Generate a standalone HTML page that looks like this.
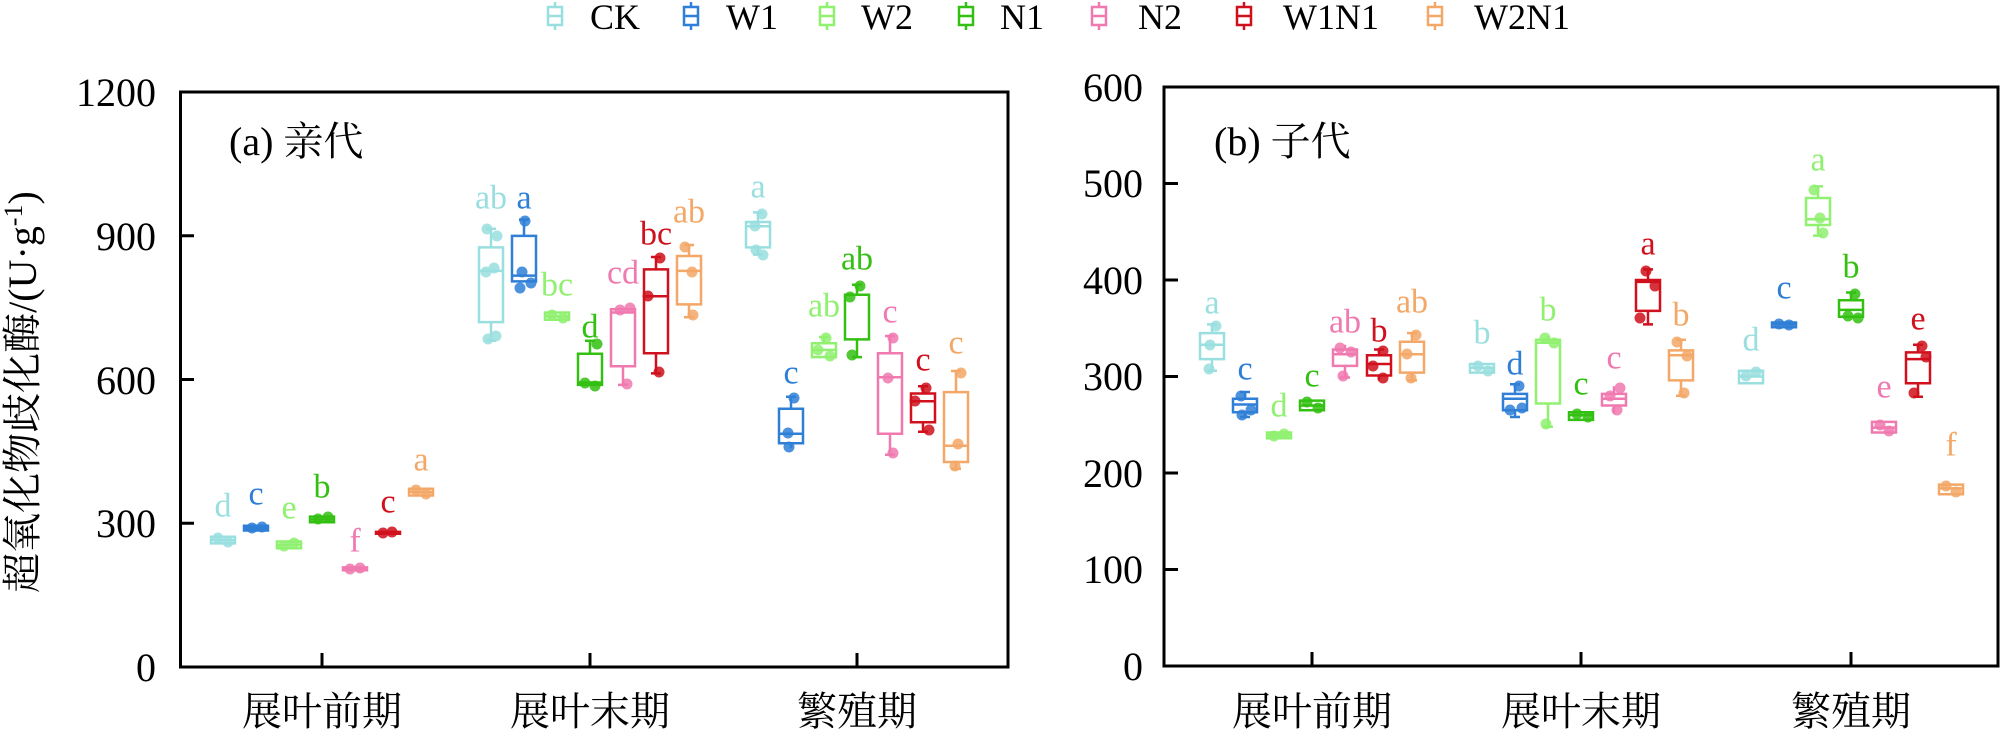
<!DOCTYPE html>
<html><head><meta charset="utf-8"><style>
html,body{margin:0;padding:0;background:#fff;}
svg{display:block;font-family:"Liberation Serif","Noto Serif CJK SC","Noto Sans CJK SC",serif;}
.t{font-size:40px;fill:#000;}
.l{font-size:34px;text-anchor:middle;dominant-baseline:central;}
.b{fill:none;stroke-width:2.5;}
</style></head><body>
<svg width="2000" height="731" viewBox="0 0 2000 731" xmlns="http://www.w3.org/2000/svg">
<!-- legend -->
<g class="b" stroke-width="2.2">
<path stroke="#9adfe0" d="M548 7h14v18h-14zM548 16h14M555 2v5M555 25v5"/>
<path stroke="#2f7fd6" d="M684 7h14v18h-14zM684 16h14M691 2v5M691 25v5"/>
<path stroke="#90f070" d="M820 7h14v18h-14zM820 16h14M827 2v5M827 25v5"/>
<path stroke="#33c012" d="M959 7h14v18h-14zM959 16h14M966 2v5M966 25v5"/>
<path stroke="#f07ab0" d="M1092 7h14v18h-14zM1092 16h14M1099 2v5M1099 25v5"/>
<path stroke="#d0101c" d="M1237 7h14v18h-14zM1237 16h14M1244 2v5M1244 25v5"/>
<path stroke="#f4a868" d="M1428 7h14v18h-14zM1428 16h14M1435 2v5M1435 25v5"/>
</g>
<g font-size="36" fill="#000">
<text x="590" y="29">CK</text><text x="726" y="29">W1</text><text x="861" y="29">W2</text><text x="1000" y="29">N1</text><text x="1138" y="29">N2</text><text x="1283" y="29">W1N1</text><text x="1474" y="29">W2N1</text>
</g>

<!-- left axes -->
<g stroke="#000" stroke-width="3" fill="none">
<rect x="180.5" y="92" width="827.5" height="575"/>
<path d="M180 235.8h14M180 379.5h14M180 523.3h14M322 667v-14M590 667v-14M857 667v-14"/>
<rect x="1164" y="87" width="834" height="579"/>
<path d="M1164 569.5h14M1164 473h14M1164 376.5h14M1164 280h14M1164 183.5h14M1312 666v-14M1581 666v-14M1851 666v-14"/>
</g>
<g class="t" text-anchor="end">
<text x="156" y="106">1200</text><text x="156" y="250">900</text><text x="156" y="394">600</text><text x="156" y="537">300</text><text x="156" y="681">0</text>
<text x="1143" y="101">600</text><text x="1143" y="197">500</text><text x="1143" y="294">400</text><text x="1143" y="390">300</text><text x="1143" y="487">200</text><text x="1143" y="583">100</text><text x="1143" y="680">0</text>
</g>
<g class="t" text-anchor="middle">
<text x="322" y="725">展叶前期</text><text x="590" y="725">展叶末期</text><text x="857" y="725">繁殖期</text>
<text x="1312" y="725">展叶前期</text><text x="1581" y="725">展叶末期</text><text x="1851" y="725">繁殖期</text>
</g>
<text class="t" x="229" y="155" font-size="38">(a) 亲代</text>
<text class="t" x="1214" y="155" font-size="38">(b) 子代</text>
<text class="t" transform="translate(36,392) rotate(-90)" text-anchor="middle">超氧化物歧化酶/(U·g<tspan dy="-14" font-size="26">-1</tspan><tspan dy="14">)</tspan></text>

<!-- LEFT boxes -->
<!-- CK -->
<g stroke="#9adfe0" fill="#9adfe0">
<path class="b" d="M211 536.7h24V543.4h-24ZM211 540h24"/>
<path class="b" d="M479 247.4h24V322.1h-24ZM479 270.9h24M491 228.7V247.4M491 322.1V340.8M486 228.7h10M486 340.8h10"/>
<path class="b" d="M746 222h24V247.4h-24ZM746 226.3h24M758 212.4V222M758 247.4V254.6M753 212.4h10M753 254.6h10"/>
<g opacity=".85"><circle cx="218" cy="538" r="5"/><circle cx="228" cy="542" r="5"/><circle cx="487" cy="229" r="5"/><circle cx="497" cy="236" r="5"/><circle cx="486" cy="272" r="5"/><circle cx="494" cy="268" r="5"/><circle cx="488" cy="339" r="5"/><circle cx="496" cy="336" r="5"/><circle cx="762" cy="214" r="5"/><circle cx="755" cy="226" r="5"/><circle cx="756" cy="250" r="5"/><circle cx="763" cy="255" r="5"/></g>
<text class="l" x="223" y="506" stroke="none">d</text><text class="l" x="491" y="198" stroke="none">ab</text><text class="l" x="758" y="187" stroke="none">a</text>
</g>
<!-- W1 -->
<g stroke="#2f7fd6" fill="#2f7fd6">
<path class="b" d="M244 525.7h24V530.5h-24ZM244 528h24"/>
<path class="b" d="M512 235.9h24V281.4h-24ZM512 275.6h24M524 219.6V235.9M519 219.6h10"/>
<path class="b" d="M779 408.8h24V443.3h-24ZM779 433.7h24M791 396.8V408.8M791 443.3V448.1M786 396.8h10"/>
<g opacity=".85"><circle cx="252" cy="528" r="5"/><circle cx="262" cy="527" r="5"/><circle cx="525" cy="221" r="5"/><circle cx="522" cy="272" r="5"/><circle cx="531" cy="283" r="5"/><circle cx="520" cy="288" r="5"/><circle cx="794" cy="398" r="5"/><circle cx="788" cy="433" r="5"/><circle cx="789" cy="447" r="5"/></g>
<text class="l" x="256" y="494" stroke="none">c</text><text class="l" x="524" y="198" stroke="none">a</text><text class="l" x="791" y="373" stroke="none">c</text>
</g>
<!-- W2 -->
<g stroke="#90f070" fill="#90f070">
<path class="b" d="M277 541.5h24V548.2h-24ZM277 545h24"/>
<path class="b" d="M545 312.5h24V319.7h-24ZM545 316.4h24"/>
<path class="b" d="M812 343.2h24V357.1h-24ZM812 349.9h24M824 337V343.2M819 337h10"/>
<g opacity=".85"><circle cx="284" cy="546" r="5"/><circle cx="294" cy="543" r="5"/><circle cx="552" cy="315" r="5"/><circle cx="563" cy="318" r="5"/><circle cx="818" cy="350" r="5"/><circle cx="830" cy="356" r="5"/><circle cx="826" cy="338" r="5"/></g>
<text class="l" x="289" y="508" stroke="none">e</text><text class="l" x="557" y="285" stroke="none">bc</text><text class="l" x="824" y="306" stroke="none">ab</text>
</g>
<!-- N1 -->
<g stroke="#33c012" fill="#33c012">
<path class="b" d="M310 516.6h24V522.3h-24ZM310 519.5h24"/>
<path class="b" d="M578 353.7h24V384.9h-24ZM578 382.5h24M590 340.8V353.7M585 340.8h10"/>
<path class="b" d="M845 294.8h24V339.4h-24ZM845 294.8h24M857 284.8V294.8M857 339.4V357.1M852 284.8h10M852 357.1h10"/>
<g opacity=".85"><circle cx="318" cy="519" r="5"/><circle cx="328" cy="517" r="5"/><circle cx="585" cy="383" r="5"/><circle cx="595" cy="386" r="5"/><circle cx="597" cy="344" r="5"/><circle cx="860" cy="286" r="5"/><circle cx="850" cy="297" r="5"/><circle cx="852" cy="355" r="5"/></g>
<text class="l" x="322" y="487" stroke="none">b</text><text class="l" x="590" y="327" stroke="none">d</text><text class="l" x="857" y="259" stroke="none">ab</text>
</g>
<!-- N2 -->
<g stroke="#f07ab0" fill="#f07ab0">
<path class="b" d="M343 567.4h24V570.2h-24ZM343 568.8h24"/>
<path class="b" d="M611 309.2h24V366.2h-24ZM611 312.5h24M623 366.2V384.9M618 384.9h10"/>
<path class="b" d="M878 353.3h24V433.7h-24ZM878 377.2h24M890 336V353.3M890 433.7V454.8M885 336h10M885 454.8h10"/>
<g opacity=".85"><circle cx="350" cy="569" r="5"/><circle cx="360" cy="568" r="5"/><circle cx="620" cy="310" r="5"/><circle cx="630" cy="308" r="5"/><circle cx="627" cy="384" r="5"/><circle cx="893" cy="338" r="5"/><circle cx="888" cy="378" r="5"/><circle cx="893" cy="453" r="5"/></g>
<text class="l" x="355" y="541" stroke="none">f</text><text class="l" x="623" y="273" stroke="none">cd</text><text class="l" x="890" y="312" stroke="none">c</text>
</g>
<!-- W1N1 -->
<g stroke="#d0101c" fill="#d0101c">
<path class="b" d="M376 531.9h24V533.8h-24Z"/>
<path class="b" d="M644 269.4h24V353.3h-24ZM644 296.3h24M656 257V269.4M656 353.3V373.4M651 257h10M651 373.4h10"/>
<path class="b" d="M911 393.5h24V422.2h-24ZM911 401.2h24M923 386.3V393.5M923 422.2V431.8M918 386.3h10M918 431.8h10"/>
<g opacity=".85"><circle cx="383" cy="533" r="5"/><circle cx="392" cy="532" r="5"/><circle cx="660" cy="258" r="5"/><circle cx="648" cy="296" r="5"/><circle cx="659" cy="372" r="5"/><circle cx="926" cy="388" r="5"/><circle cx="915" cy="401" r="5"/><circle cx="929" cy="430" r="5"/></g>
<text class="l" x="388" y="502" stroke="none">c</text><text class="l" x="656" y="234" stroke="none">bc</text><text class="l" x="923" y="360" stroke="none">c</text>
</g>
<!-- W2N1 -->
<g stroke="#f4a868" fill="#f4a868">
<path class="b" d="M409 488.8h24V495.5h-24ZM409 492h24"/>
<path class="b" d="M677 256h24V304.4h-24ZM677 270.9h24M689 245V256M689 304.4V317.3M684 245h10M684 317.3h10"/>
<path class="b" d="M944 392.1h24V462h-24ZM944 445.7h24M956 371V392.1M956 462V468.7M951 371h10M951 468.7h10"/>
<g opacity=".85"><circle cx="416" cy="490" r="5"/><circle cx="426" cy="494" r="5"/><circle cx="685" cy="247" r="5"/><circle cx="692" cy="272" r="5"/><circle cx="693" cy="315" r="5"/><circle cx="961" cy="373" r="5"/><circle cx="958" cy="444" r="5"/><circle cx="955" cy="466" r="5"/></g>
<text class="l" x="421" y="460" stroke="none">a</text><text class="l" x="689" y="212" stroke="none">ab</text><text class="l" x="956" y="343" stroke="none">c</text>
</g>

<!-- RIGHT boxes -->
<g stroke="#9adfe0" fill="#9adfe0">
<path class="b" d="M1200 333.1h24V359.1h-24ZM1200 344.7h24M1212 324.4V333.1M1212 359.1V370.7M1207 324.4h10M1207 370.7h10"/>
<path class="b" d="M1470 364h24V372.6h-24ZM1470 367.8h24"/>
<path class="b" d="M1739 370.7h24V383.3h-24ZM1739 376.5h24"/>
<g opacity=".85"><circle cx="1216" cy="326" r="5"/><circle cx="1210" cy="345" r="5"/><circle cx="1209" cy="369" r="5"/><circle cx="1478" cy="366" r="5"/><circle cx="1488" cy="371" r="5"/><circle cx="1746" cy="376" r="5"/><circle cx="1756" cy="372" r="5"/></g>
<text class="l" x="1212" y="303" stroke="none">a</text><text class="l" x="1482" y="333" stroke="none">b</text><text class="l" x="1751" y="340" stroke="none">d</text>
</g>
<g stroke="#2f7fd6" fill="#2f7fd6">
<path class="b" d="M1233 398.7h24V412.2h-24ZM1233 404.5h24M1245 392V398.7M1245 412.2V417M1240 392h10M1240 417h10"/>
<path class="b" d="M1503 393.9h24V410.3h-24ZM1503 398.7h24M1515 384.2V393.9M1515 410.3V417M1510 384.2h10M1510 417h10"/>
<path class="b" d="M1772 322.5h24V327.3h-24ZM1772 324.4h24"/>
<g opacity=".85"><circle cx="1241" cy="396" r="5"/><circle cx="1251" cy="410" r="5"/><circle cx="1242" cy="415" r="5"/><circle cx="1519" cy="386" r="5"/><circle cx="1510" cy="410" r="5"/><circle cx="1522" cy="408" r="5"/><circle cx="1779" cy="324" r="5"/><circle cx="1789" cy="325" r="5"/></g>
<text class="l" x="1245" y="369" stroke="none">c</text><text class="l" x="1515" y="364" stroke="none">d</text><text class="l" x="1784" y="288" stroke="none">c</text>
</g>
<g stroke="#90f070" fill="#90f070">
<path class="b" d="M1267 432.5h24V438.3h-24ZM1267 435.4h24"/>
<path class="b" d="M1536 339.8h24V403.5h-24ZM1536 342.7h24M1548 336V339.8M1548 403.5V426.7M1543 426.7h10"/>
<path class="b" d="M1806 198h24V225h-24ZM1806 219.2h24M1818 186.4V198M1818 225V235.6M1813 186.4h10M1813 235.6h10"/>
<g opacity=".85"><circle cx="1274" cy="436" r="5"/><circle cx="1284" cy="434" r="5"/><circle cx="1545" cy="338" r="5"/><circle cx="1554" cy="343" r="5"/><circle cx="1546" cy="424" r="5"/><circle cx="1814" cy="190" r="5"/><circle cx="1820" cy="218" r="5"/><circle cx="1823" cy="233" r="5"/></g>
<text class="l" x="1279" y="406" stroke="none">d</text><text class="l" x="1548" y="310" stroke="none">b</text><text class="l" x="1818" y="160" stroke="none">a</text>
</g>
<g stroke="#33c012" fill="#33c012">
<path class="b" d="M1300 400.6h24V410.3h-24ZM1300 405.5h24"/>
<path class="b" d="M1569 412.2h24V419.9h-24ZM1569 415.1h24"/>
<path class="b" d="M1839 300.3h24V316.7h-24ZM1839 309.9h24M1851 292.5V300.3M1846 292.5h10"/>
<g opacity=".85"><circle cx="1307" cy="402" r="5"/><circle cx="1318" cy="408" r="5"/><circle cx="1577" cy="414" r="5"/><circle cx="1588" cy="417" r="5"/><circle cx="1855" cy="294" r="5"/><circle cx="1848" cy="316" r="5"/><circle cx="1858" cy="318" r="5"/></g>
<text class="l" x="1312" y="376" stroke="none">c</text><text class="l" x="1581" y="384" stroke="none">c</text><text class="l" x="1851" y="267" stroke="none">b</text>
</g>
<g stroke="#f07ab0" fill="#f07ab0">
<path class="b" d="M1333 349.5h24V365.9h-24ZM1333 354.3h24M1345 344.7V349.5M1345 365.9V377.5M1340 377.5h10"/>
<path class="b" d="M1602 393.9h24V405.5h-24ZM1602 398.7h24M1614 386.2V393.9M1614 405.5V413.2"/>
<path class="b" d="M1872 421.9h24V432.5h-24ZM1872 427.6h24"/>
<g opacity=".85"><circle cx="1340" cy="348" r="5"/><circle cx="1351" cy="352" r="5"/><circle cx="1343" cy="376" r="5"/><circle cx="1610" cy="396" r="5"/><circle cx="1620" cy="388" r="5"/><circle cx="1617" cy="410" r="5"/><circle cx="1880" cy="425" r="5"/><circle cx="1889" cy="431" r="5"/></g>
<text class="l" x="1345" y="322" stroke="none">ab</text><text class="l" x="1614" y="358" stroke="none">c</text><text class="l" x="1884" y="387" stroke="none">e</text>
</g>
<g stroke="#d0101c" fill="#d0101c">
<path class="b" d="M1367 355.3h24V375.5h-24ZM1367 364h24M1379 349.5V355.3M1379 375.5V380.4M1374 349.5h10"/>
<path class="b" d="M1636 280h24V310.9h-24ZM1636 281.9h24M1648 269.4V280M1648 310.9V324.4M1643 269.4h10M1643 324.4h10"/>
<path class="b" d="M1906 352.4h24V383.3h-24ZM1906 359.1h24M1918 344.7V352.4M1918 383.3V396.8M1913 344.7h10M1913 396.8h10"/>
<g opacity=".85"><circle cx="1383" cy="351" r="5"/><circle cx="1373" cy="366" r="5"/><circle cx="1383" cy="378" r="5"/><circle cx="1646" cy="271" r="5"/><circle cx="1655" cy="286" r="5"/><circle cx="1640" cy="318" r="5"/><circle cx="1922" cy="346" r="5"/><circle cx="1926" cy="357" r="5"/><circle cx="1914" cy="393" r="5"/></g>
<text class="l" x="1379" y="331" stroke="none">b</text><text class="l" x="1648" y="244" stroke="none">a</text><text class="l" x="1918" y="319" stroke="none">e</text>
</g>
<g stroke="#f4a868" fill="#f4a868">
<path class="b" d="M1400 341.8h24V372.6h-24ZM1400 354.3h24M1412 333.1V341.8M1412 372.6V380.4M1407 333.1h10M1407 380.4h10"/>
<path class="b" d="M1669 350.4h24V380.4h-24ZM1669 355.3h24M1681 339.8V350.4M1681 380.4V395.8M1676 339.8h10M1676 395.8h10"/>
<path class="b" d="M1939 484.6h24V494.2h-24ZM1939 488.4h24"/>
<g opacity=".85"><circle cx="1416" cy="335" r="5"/><circle cx="1407" cy="354" r="5"/><circle cx="1411" cy="378" r="5"/><circle cx="1677" cy="342" r="5"/><circle cx="1687" cy="356" r="5"/><circle cx="1684" cy="393" r="5"/><circle cx="1946" cy="486" r="5"/><circle cx="1956" cy="492" r="5"/></g>
<text class="l" x="1412" y="302" stroke="none">ab</text><text class="l" x="1681" y="315" stroke="none">b</text><text class="l" x="1951" y="445" stroke="none">f</text>
</g>
</svg>
</body></html>
